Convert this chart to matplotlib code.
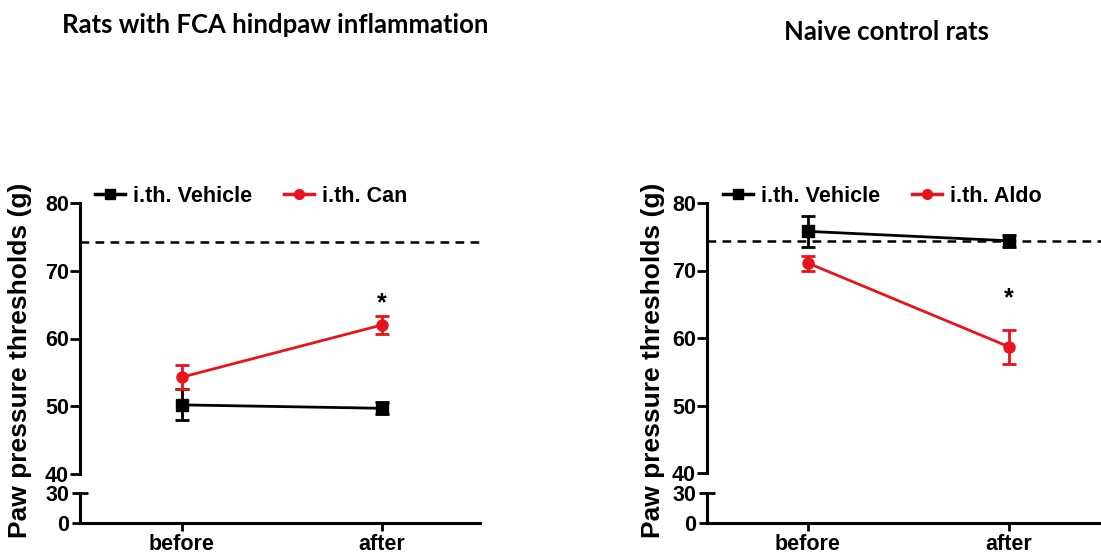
import matplotlib
matplotlib.use("Agg")
import matplotlib.pyplot as plt
from matplotlib.lines import Line2D

# ---- data ----
timepoints = ["before", "after"]
fca_vehicle_mean = [50.2, 49.7]
fca_vehicle_sem = [2.3, 0.9]
fca_can_mean = [54.3, 62.0]
fca_can_sem = [1.8, 1.3]
naive_vehicle_mean = [75.8, 74.4]
naive_vehicle_sem = [2.3, 0.9]
naive_aldo_mean = [71.1, 58.7]
naive_aldo_sem = [1.1, 2.5]
baseline = 74.3
star_fca = 65.2
star_naive = 65.9
upper_ticks = [40, 50, 60, 70, 80]
lower_ticks = [0, 30]

W, H = 1101, 556
fig = plt.figure(figsize=(W / 100, H / 100), dpi=100)
TICKFONT = dict(family="Liberation Sans", weight="bold", size=15.5)


def rect(x0, y0, x1, y1):
    return [x0 / W, 1 - y1 / H, (x1 - x0) / W, (y1 - y0) / H]


def panel(xl, xr, top_px, brk_top, brk_bot, bot_px, xlim, veh, veh_e, trt, trt_e,
          trt_label, star_y, title, title_xy, ylabel_x, leg_x):
    axt = fig.add_axes(rect(xl, top_px, xr, brk_top))
    axb = fig.add_axes(rect(xl, brk_bot, xr, bot_px))
    x = list(range(len(timepoints)))
    for ax in (axt, axb):
        ax.set_xlim(*xlim)
        ax.spines["top"].set_visible(False)
        ax.spines["right"].set_visible(False)
        ax.spines["left"].set_linewidth(2.2)
        ax.spines["bottom"].set_linewidth(2.2)
        ax.patch.set_alpha(0)
    axt.spines["bottom"].set_visible(False)
    axt.set_xticks([])
    axt.set_ylim(40, 80)
    axt.set_yticks(upper_ticks)
    axt.set_yticklabels([str(t) for t in upper_ticks], fontdict=TICKFONT)
    axt.tick_params(axis="y", length=7, width=2, pad=1)
    axb.set_ylim(0, 30)
    axb.set_yticks(lower_ticks)
    axb.set_yticklabels([str(t) for t in lower_ticks], fontdict=TICKFONT)
    axb.tick_params(axis="y", length=12, width=2, pad=1.5, direction="inout")
    axb.set_xticks(x)
    axb.set_xticklabels(timepoints, fontdict=TICKFONT)
    axb.tick_params(axis="x", length=6, width=2, pad=2)

    axt.axhline(baseline, color="black", lw=1.8, dashes=(3.5, 2.5), zorder=1)

    axt.errorbar(x, veh, yerr=veh_e, color="black", lw=2, marker="s", ms=8,
                 capsize=5, capthick=2, elinewidth=2, zorder=3)
    axt.errorbar(x, trt, yerr=trt_e, color="#e8141b", lw=2, marker="o", ms=8,
                 capsize=5, capthick=2, elinewidth=2, zorder=4)
    axt.text(1, star_y, "*", ha="center", va="center", fontsize=18,
             family="Liberation Sans", weight="bold")

    h1 = Line2D([], [], color="black", lw=2.5, marker="s", ms=7)
    h2 = Line2D([], [], color="#e8141b", lw=2.5, marker="o", ms=7)
    fig.legend([h1, h2], ["i.th. Vehicle", trt_label], loc="center left",
               bbox_to_anchor=(leg_x / W, 1 - 196 / H), ncol=2, frameon=False,
               prop=dict(family="Liberation Sans", weight="bold", size=15.5),
               handlelength=1.4, handletextpad=0.35, columnspacing=1.5,
               borderpad=0, borderaxespad=0)

    fig.text(title_xy[0] / W, 1 - title_xy[1] / H, title, ha="center", va="center",
             family="Lato", weight="bold", fontsize=18.5)
    fig.text(ylabel_x / W, 1 - 360 / H, "Paw pressure thresholds (g)", rotation=90,
             ha="center", va="center", family="Liberation Sans", weight="bold",
             fontsize=19)


panel(80, 480, 203, 474, 493, 523, (-0.51, 1.49), fca_vehicle_mean, fca_vehicle_sem,
      fca_can_mean, fca_can_sem, "i.th. Can", star_fca,
      "Rats with FCA hindpaw inflammation", (275, 25), 20, 95)
panel(707, 1101, 203, 473, 493, 523, (-0.502, 1.458), naive_vehicle_mean,
      naive_vehicle_sem, naive_aldo_mean, naive_aldo_sem, "i.th. Aldo", star_naive,
      "Naive control rats", (886, 32), 653, 723)

fig.savefig("out.png", dpi=100)
